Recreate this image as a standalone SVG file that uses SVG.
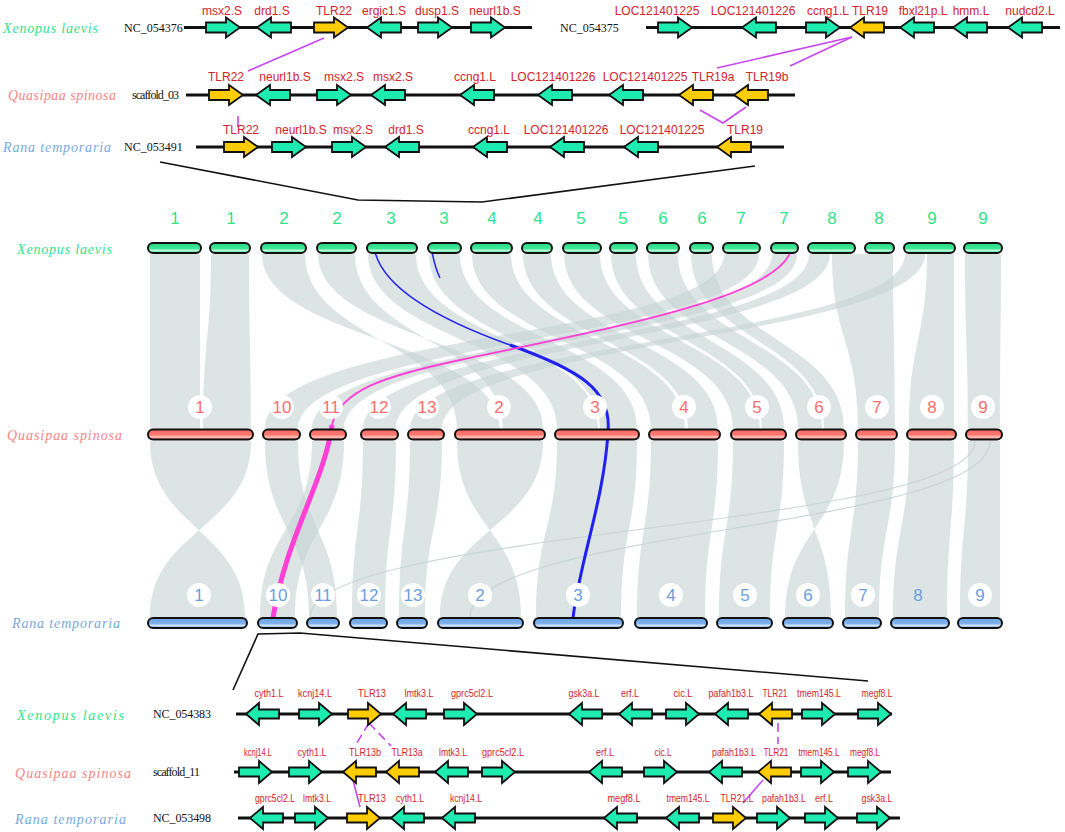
<svg xmlns="http://www.w3.org/2000/svg" xmlns:xlink="http://www.w3.org/1999/xlink" width="1065" height="832" viewBox="0 0 1065 832">
<style>
.sp{font-family:"Liberation Serif",serif;font-style:italic;font-size:14px}
.xl{fill:#2fe38b}.qs{fill:#fb8585}.rt{fill:#79a9e0}
.nc{font-family:"Liberation Serif",serif;font-size:12px;fill:#111}
.gl{font-family:"Liberation Sans",Arial,sans-serif;font-size:12px;fill:#d2232a;text-anchor:middle}
.gs{font-family:"Liberation Sans",Arial,sans-serif;font-size:10.5px;fill:#d2232a;text-anchor:middle}
.ln{stroke:#111;stroke-width:3;fill:none}
.g{fill:#1eebb0;stroke:#111;stroke-width:1.8}
.y{fill:#ffcc00;stroke:#111;stroke-width:1.8}
.hl{stroke:#c845f0;stroke-width:1.6;fill:none}
.dsh{stroke-dasharray:9 5}
.bk{stroke:#111;stroke-width:1.6;fill:none}
.rb{fill:#c6d4d4;opacity:.62}
.th{fill:none;stroke:#c6d4d4;stroke-width:1.2;opacity:.9}
.chx{fill:url(#gx);stroke:#111;stroke-width:2}
.chq{fill:url(#gq);stroke:#111;stroke-width:2}
.chr{fill:url(#gr);stroke:#111;stroke-width:2}
.nx{font-family:"Liberation Sans",Arial,sans-serif;font-size:17px;fill:#2fe38b;text-anchor:middle}
.nq{font-family:"Liberation Sans",Arial,sans-serif;font-size:17px;fill:#fb6e6e;text-anchor:middle}
.nr{font-family:"Liberation Sans",Arial,sans-serif;font-size:17px;fill:#6a9fdf;text-anchor:middle}
.wc{fill:#fff}
</style>
<defs>
<path id="ga" d="M0,-5 H20 V-10 L34,0 L20,10 V5 H0 Z"/>
<path id="gb" d="M0,-4.5 H20 V-11 L33,0 L20,11 V4.5 H0 Z"/>
<linearGradient id="gx" x1="0" y1="0" x2="0" y2="1"><stop offset="0" stop-color="#28d884"/><stop offset="0.55" stop-color="#3ee896"/><stop offset="0.75" stop-color="#b8f8d8"/><stop offset="1" stop-color="#28d884"/></linearGradient>
<linearGradient id="gq" x1="0" y1="0" x2="0" y2="1"><stop offset="0" stop-color="#fa6a64"/><stop offset="0.55" stop-color="#ff7a72"/><stop offset="0.75" stop-color="#ffc8c2"/><stop offset="1" stop-color="#fa6a64"/></linearGradient>
<linearGradient id="gr" x1="0" y1="0" x2="0" y2="1"><stop offset="0" stop-color="#6aa2e2"/><stop offset="0.55" stop-color="#7fb2ec"/><stop offset="0.75" stop-color="#cfe3f8"/><stop offset="1" stop-color="#6aa2e2"/></linearGradient>
</defs>

<g id="ribbons-top">
<path class="rb" d="M150,254 C150,340 150,340 150,429 L200,429 C200,340 200,340 200,254Z"/>
<path class="rb" d="M211,254 C211,340 203,340 203,429 L251,429 C251,340 249,340 249,254Z"/>
<path class="rb" d="M262,254 C262,340 500,340 500,429 L457,429 C457,340 305,340 305,254Z"/>
<path class="rb" d="M318,254 C318,340 543,340 543,429 L503,429 C503,340 355,340 355,254Z"/>
<path class="rb" d="M368,254 C368,340 557,340 557,429 L598,429 C598,340 416,340 416,254Z"/>
<path class="rb" d="M429,254 C429,340 600,340 600,429 L637,429 C637,340 460,340 460,254Z"/>
<path class="rb" d="M472,254 C472,340 651,340 651,429 L685,429 C685,340 511,340 511,254Z"/>
<path class="rb" d="M523,254 C523,340 688,340 688,429 L718,429 C718,340 551,340 551,254Z"/>
<path class="rb" d="M564,254 C564,340 733,340 733,429 L760,429 C760,340 600,340 600,254Z"/>
<path class="rb" d="M611,254 C611,340 762,340 762,429 L784,429 C784,340 636,340 636,254Z"/>
<path class="rb" d="M648,254 C648,340 798,340 798,429 L822,429 C822,340 678,340 678,254Z"/>
<path class="rb" d="M691,254 C691,340 824,340 824,429 L844,429 C844,340 712,340 712,254Z"/>
<path class="rb" d="M724,254 C724,340 265,330 265,429 L298,429 C298,340 759,340 759,254Z"/>
<path class="rb" d="M772,254 C772,340 312,340 312,429 L344,429 C344,340 797,340 797,254Z"/>
<path class="rb" d="M809,254 C809,340 363,340 363,429 L396,429 C396,340 830,340 830,254Z"/>
<path class="rb" d="M832,254 C832,340 858,340 858,429 L895,429 C895,340 893,340 893,254Z"/>
<path class="rb" d="M905,254 C905,340 410,340 410,429 L442,429 C442,340 925,340 925,254Z"/>
<path class="rb" d="M927,254 C927,340 909,340 909,429 L954,429 C954,340 954,340 954,254Z"/>
<path class="rb" d="M965,254 C965,340 968,340 968,429 L1000,429 C1000,340 1001,340 1001,254Z"/>
</g>
<g id="ribbons-bottom">
<path class="rb" d="M150,441 C150,529 245,529 245,617 L150,617 C150,529 251,529 251,441Z"/>
<path class="rb" d="M265,441 C265,529 309,529 309,617 L337,617 C337,529 298,529 298,441Z"/>
<path class="rb" d="M312,441 C312,529 260,529 260,617 L295,617 C295,529 344,529 344,441Z"/>
<path class="rb" d="M363,441 C363,529 352,529 352,617 L385,617 C385,529 396,529 396,441Z"/>
<path class="rb" d="M410,441 C410,529 399,529 399,617 L425,617 C425,529 442,529 442,441Z"/>
<path class="rb" d="M457,441 C457,529 521,529 521,617 L440,617 C440,529 543,529 543,441Z"/>
<path class="rb" d="M557,441 C557,529 536,529 536,617 L621,617 C621,529 637,529 637,441Z"/>
<path class="rb" d="M651,441 C651,529 637,529 637,617 L705,617 C705,529 718,529 718,441Z"/>
<path class="rb" d="M733,441 C733,529 719,529 719,617 L770,617 C770,529 784,529 784,441Z"/>
<path class="rb" d="M798,441 C798,529 831,529 831,617 L785,617 C785,529 844,529 844,441Z"/>
<path class="rb" d="M858,441 C858,529 845,529 845,617 L879,617 C879,529 895,529 895,441Z"/>
<path class="rb" d="M909,441 C909,529 893,529 893,617 L947,617 C947,529 954,529 954,441Z"/>
<path class="rb" d="M968,441 C968,529 960,529 960,617 L1000,617 C1000,529 1000,529 1000,441Z"/>
<path class="th" d="M990,441 C990,529 470,529 470,617"/>
<path class="th" d="M975,441 C975,529 310,529 310,617"/>
</g>

<g id="highlight-lines">
<path d="M375,252 C385,290 440,320 510,345" fill="none" stroke="#2020f0" stroke-width="1.5"/>
<path d="M432,252 C434,262 436,270 440,278" fill="none" stroke="#2020f0" stroke-width="1.5"/>
<path d="M510,345 C580,370 612,390 608,432 C604,500 580,560 573,618" fill="none" stroke="#2020f0" stroke-width="3"/>
<path d="M790,253 C770,300 600,330 460,360 C385,376 340,390 332,425" fill="none" stroke="#ff3fd6" stroke-width="1.8"/>
<path d="M332,425 C325,480 285,540 273,618" fill="none" stroke="#ff3fd6" stroke-width="5"/>
</g>

<g id="chromosomes-xenopus">
<rect class="chx" x="148" y="243" width="53" height="10" rx="5"/>
<rect class="chx" x="210" y="243" width="40" height="10" rx="5"/>
<rect class="chx" x="261" y="243" width="45" height="10" rx="5"/>
<rect class="chx" x="317" y="243" width="39" height="10" rx="5"/>
<rect class="chx" x="367" y="243" width="50" height="10" rx="5"/>
<rect class="chx" x="428" y="243" width="33" height="10" rx="5"/>
<rect class="chx" x="471" y="243" width="41" height="10" rx="5"/>
<rect class="chx" x="522" y="243" width="30" height="10" rx="5"/>
<rect class="chx" x="563" y="243" width="38" height="10" rx="5"/>
<rect class="chx" x="610" y="243" width="27" height="10" rx="5"/>
<rect class="chx" x="647" y="243" width="32" height="10" rx="5"/>
<rect class="chx" x="690" y="243" width="23" height="10" rx="5"/>
<rect class="chx" x="723" y="243" width="37" height="10" rx="5"/>
<rect class="chx" x="771" y="243" width="27" height="10" rx="5"/>
<rect class="chx" x="808" y="243" width="47" height="10" rx="5"/>
<rect class="chx" x="865" y="243" width="29" height="10" rx="5"/>
<rect class="chx" x="904" y="243" width="51" height="10" rx="5"/>
<rect class="chx" x="964" y="243" width="38" height="10" rx="5"/>
<text class="nx" x="175" y="224">1</text><text class="nx" x="231" y="224">1</text>
<text class="nx" x="284" y="224">2</text><text class="nx" x="337" y="224">2</text>
<text class="nx" x="391" y="224">3</text><text class="nx" x="444" y="224">3</text>
<text class="nx" x="492" y="224">4</text><text class="nx" x="538" y="224">4</text>
<text class="nx" x="581" y="224">5</text><text class="nx" x="623" y="224">5</text>
<text class="nx" x="663" y="224">6</text><text class="nx" x="702" y="224">6</text>
<text class="nx" x="741" y="224">7</text><text class="nx" x="784" y="224">7</text>
<text class="nx" x="832" y="224">8</text><text class="nx" x="879" y="224">8</text>
<text class="nx" x="932" y="224">9</text><text class="nx" x="983" y="224">9</text>
<text class="sp xl" x="17" y="254" textLength="95">Xenopus laevis</text>
</g>

<g id="chromosomes-quasipaa">
<rect class="chq" x="148" y="429.5" width="105" height="10" rx="5"/>
<rect class="chq" x="263" y="429.5" width="37" height="10" rx="5"/>
<rect class="chq" x="310" y="429.5" width="36" height="10" rx="5"/>
<rect class="chq" x="361" y="429.5" width="37" height="10" rx="5"/>
<rect class="chq" x="408" y="429.5" width="36" height="10" rx="5"/>
<rect class="chq" x="455" y="429.5" width="90" height="10" rx="5"/>
<rect class="chq" x="555" y="429.5" width="84" height="10" rx="5"/>
<rect class="chq" x="649" y="429.5" width="71" height="10" rx="5"/>
<rect class="chq" x="731" y="429.5" width="55" height="10" rx="5"/>
<rect class="chq" x="796" y="429.5" width="50" height="10" rx="5"/>
<rect class="chq" x="856" y="429.5" width="41" height="10" rx="5"/>
<rect class="chq" x="907" y="429.5" width="49" height="10" rx="5"/>
<rect class="chq" x="966" y="429.5" width="36" height="10" rx="5"/>
<circle class="wc" cx="200" cy="407" r="12"/><circle class="wc" cx="282" cy="407" r="12"/>
<circle class="wc" cx="331" cy="407" r="12"/><circle class="wc" cx="379" cy="407" r="12"/>
<circle class="wc" cx="427" cy="407" r="12"/><circle class="wc" cx="499" cy="407" r="12"/>
<circle class="wc" cx="595" cy="407" r="12"/><circle class="wc" cx="684" cy="407" r="12"/>
<circle class="wc" cx="757" cy="407" r="12"/><circle class="wc" cx="819" cy="407" r="12"/>
<circle class="wc" cx="877" cy="407" r="12"/><circle class="wc" cx="932" cy="407" r="12"/>
<circle class="wc" cx="983" cy="407" r="12"/>
<text class="nq" x="200" y="413">1</text><text class="nq" x="282" y="413">10</text>
<text class="nq" x="331" y="413">11</text><text class="nq" x="379" y="413">12</text>
<text class="nq" x="427" y="413">13</text><text class="nq" x="499" y="413">2</text>
<text class="nq" x="595" y="413">3</text><text class="nq" x="684" y="413">4</text>
<text class="nq" x="757" y="413">5</text><text class="nq" x="819" y="413">6</text>
<text class="nq" x="877" y="413">7</text><text class="nq" x="932" y="413">8</text>
<text class="nq" x="983" y="413">9</text>
<text class="sp qs" x="7" y="440" textLength="115">Quasipaa spinosa</text>
</g>

<g id="chromosomes-rana">
<rect class="chr" x="148" y="618" width="99" height="10" rx="5"/>
<rect class="chr" x="258" y="618" width="39" height="10" rx="5"/>
<rect class="chr" x="307" y="618" width="32" height="10" rx="5"/>
<rect class="chr" x="350" y="618" width="37" height="10" rx="5"/>
<rect class="chr" x="397" y="618" width="30" height="10" rx="5"/>
<rect class="chr" x="438" y="618" width="85" height="10" rx="5"/>
<rect class="chr" x="534" y="618" width="89" height="10" rx="5"/>
<rect class="chr" x="635" y="618" width="72" height="10" rx="5"/>
<rect class="chr" x="717" y="618" width="55" height="10" rx="5"/>
<rect class="chr" x="783" y="618" width="50" height="10" rx="5"/>
<rect class="chr" x="843" y="618" width="38" height="10" rx="5"/>
<rect class="chr" x="891" y="618" width="58" height="10" rx="5"/>
<rect class="chr" x="958" y="618" width="44" height="10" rx="5"/>
<circle class="wc" cx="199" cy="595" r="12"/><circle class="wc" cx="278" cy="595" r="12"/>
<circle class="wc" cx="323" cy="595" r="12"/><circle class="wc" cx="369" cy="595" r="12"/>
<circle class="wc" cx="413" cy="595" r="12"/><circle class="wc" cx="480" cy="595" r="12"/>
<circle class="wc" cx="578" cy="595" r="12"/><circle class="wc" cx="671" cy="595" r="12"/>
<circle class="wc" cx="745" cy="595" r="12"/><circle class="wc" cx="808" cy="595" r="12"/>
<circle class="wc" cx="863" cy="595" r="12"/><circle class="wc" cx="980" cy="595" r="12"/>
<text class="nr" x="199" y="601">1</text><text class="nr" x="278" y="601">10</text>
<text class="nr" x="323" y="601">11</text><text class="nr" x="369" y="601">12</text>
<text class="nr" x="413" y="601">13</text><text class="nr" x="480" y="601">2</text>
<text class="nr" x="578" y="601">3</text><text class="nr" x="671" y="601">4</text>
<text class="nr" x="745" y="601">5</text><text class="nr" x="808" y="601">6</text>
<text class="nr" x="863" y="601">7</text><text class="nr" x="918" y="601">8</text>
<text class="nr" x="980" y="601">9</text>
<text class="sp rt" x="12" y="628" textLength="108">Rana temporaria</text>
</g>

<g id="zoom-connectors">
<polyline class="bk" points="160,162 358,200 482,202 755,166"/>
<polyline class="bk" points="233,690 258,634 300,633 868,681"/>
<line class="hl" x1="324" y1="38" x2="248" y2="71"/>
<line class="hl" x1="852" y1="37" x2="717" y2="68"/>
<line class="hl" x1="852" y1="37" x2="790" y2="66"/>
<line class="hl" x1="238" y1="116" x2="238" y2="127"/>
<polyline class="hl" points="700,110 723,123 746,107"/>
<line class="hl dsh" x1="369" y1="723" x2="355" y2="746"/>
<line class="hl dsh" x1="369" y1="723" x2="391" y2="746"/>
<line class="hl" x1="353" y1="780" x2="360" y2="807"/>
<line class="hl dsh" x1="778" y1="723" x2="778" y2="744"/>
<line class="hl" x1="763" y1="780" x2="743" y2="803"/>
</g>

<g id="top-xenopus">
<text class="sp xl" x="3" y="33" textLength="95">Xenopus laevis</text>
<text class="nc" x="124" y="32">NC_054376</text>
<line class="ln" x1="184" y1="27.5" x2="532" y2="27.5"/>
<text class="nc" x="560" y="32">NC_054375</text>
<line class="ln" x1="646" y1="27.5" x2="1060" y2="27.5"/>
<use href="#ga" class="g" transform="translate(206,27.5)"/>
<use href="#ga" class="g" transform="translate(291,27.5) scale(-1,1)"/>
<use href="#ga" class="y" transform="translate(314,27.5)"/>
<use href="#ga" class="g" transform="translate(401,27.5) scale(-1,1)"/>
<use href="#ga" class="g" transform="translate(418,27.5)"/>
<use href="#ga" class="g" transform="translate(471,27.5)"/>
<use href="#ga" class="g" transform="translate(658,27.5)"/>
<use href="#ga" class="g" transform="translate(776,27.5) scale(-1,1)"/>
<use href="#ga" class="g" transform="translate(806,27.5)"/>
<use href="#ga" class="y" transform="translate(884,27.5) scale(-1,1)"/>
<use href="#ga" class="g" transform="translate(934,27.5) scale(-1,1)"/>
<use href="#ga" class="g" transform="translate(987,27.5) scale(-1,1)"/>
<use href="#ga" class="g" transform="translate(1042,27.5) scale(-1,1)"/>
<text class="gl" x="222" y="14.5">msx2.S</text>
<text class="gl" x="272" y="14.5">drd1.S</text>
<text class="gl" x="334" y="14.5">TLR22</text>
<text class="gl" x="384" y="14.5">ergic1.S</text>
<text class="gl" x="437" y="14.5">dusp1.S</text>
<text class="gl" x="495" y="14.5">neurl1b.S</text>
<text class="gl" x="657" y="14.5">LOC121401225</text>
<text class="gl" x="753" y="14.5">LOC121401226</text>
<text class="gl" x="828" y="14.5">ccng1.L</text>
<text class="gl" x="870" y="14.5">TLR19</text>
<text class="gl" x="923" y="14.5">fbxl21p.L</text>
<text class="gl" x="971" y="14.5">hmm.L</text>
<text class="gl" x="1030" y="14.5">nudcd2.L</text>
</g>

<g id="top-quasipaa">
<text class="sp qs" x="8" y="100" textLength="108">Quasipaa spinosa</text>
<text class="nc" x="132" y="99" font-size="11" textLength="47">scaffold_03</text>
<line class="ln" x1="186" y1="95" x2="795" y2="95"/>
<use href="#ga" class="y" transform="translate(209,95)"/>
<use href="#ga" class="g" transform="translate(290,95) scale(-1,1)"/>
<use href="#ga" class="g" transform="translate(317,95)"/>
<use href="#ga" class="g" transform="translate(405,95) scale(-1,1)"/>
<use href="#ga" class="g" transform="translate(494,95) scale(-1,1)"/>
<use href="#ga" class="g" transform="translate(572,95) scale(-1,1)"/>
<use href="#ga" class="g" transform="translate(643,95) scale(-1,1)"/>
<use href="#ga" class="y" transform="translate(713,95) scale(-1,1)"/>
<use href="#ga" class="y" transform="translate(768,95) scale(-1,1)"/>
<text class="gl" x="226" y="81">TLR22</text>
<text class="gl" x="285" y="81">neurl1b.S</text>
<text class="gl" x="344" y="81">msx2.S</text>
<text class="gl" x="393" y="81">msx2.S</text>
<text class="gl" x="475" y="81">ccng1.L</text>
<text class="gl" x="553" y="81">LOC121401226</text>
<text class="gl" x="645" y="81">LOC121401225</text>
<text class="gl" x="713" y="81">TLR19a</text>
<text class="gl" x="767" y="81">TLR19b</text>
</g>

<g id="top-rana">
<text class="sp rt" x="3" y="152" textLength="108">Rana temporaria</text>
<text class="nc" x="124" y="151">NC_053491</text>
<line class="ln" x1="196" y1="147" x2="784" y2="147"/>
<use href="#ga" class="y" transform="translate(224,147)"/>
<use href="#ga" class="g" transform="translate(272,147)"/>
<use href="#ga" class="g" transform="translate(332,147)"/>
<use href="#ga" class="g" transform="translate(419,147) scale(-1,1)"/>
<use href="#ga" class="g" transform="translate(507,147) scale(-1,1)"/>
<use href="#ga" class="g" transform="translate(584,147) scale(-1,1)"/>
<use href="#ga" class="g" transform="translate(658,147) scale(-1,1)"/>
<use href="#ga" class="y" transform="translate(751,147) scale(-1,1)"/>
<text class="gl" x="241" y="134">TLR22</text>
<text class="gl" x="301" y="134">neurl1b.S</text>
<text class="gl" x="353" y="134">msx2.S</text>
<text class="gl" x="406" y="134">drd1.S</text>
<text class="gl" x="489" y="134">ccng1.L</text>
<text class="gl" x="566" y="134">LOC121401226</text>
<text class="gl" x="662" y="134">LOC121401225</text>
<text class="gl" x="745" y="134">TLR19</text>
</g>

<g id="bottom-xenopus">
<text class="sp xl" x="17" y="720" textLength="107">Xenopus laevis</text>
<text class="nc" x="153" y="718" textLength="58">NC_054383</text>
<line class="ln" x1="236" y1="714" x2="892" y2="714"/>
<use href="#gb" class="g" transform="translate(279,714) scale(-1,1)"/>
<use href="#gb" class="g" transform="translate(299,714)"/>
<use href="#gb" class="y" transform="translate(348,714)"/>
<use href="#gb" class="g" transform="translate(426,714) scale(-1,1)"/>
<use href="#gb" class="g" transform="translate(444,714)"/>
<use href="#gb" class="g" transform="translate(602,714) scale(-1,1)"/>
<use href="#gb" class="g" transform="translate(652,714) scale(-1,1)"/>
<use href="#gb" class="g" transform="translate(666,714)"/>
<use href="#gb" class="g" transform="translate(748,714) scale(-1,1)"/>
<use href="#gb" class="y" transform="translate(792,714) scale(-1,1)"/>
<use href="#gb" class="g" transform="translate(802,714)"/>
<use href="#gb" class="g" transform="translate(858,714)"/>
<text class="gs" x="269" y="697" textLength="29" lengthAdjust="spacingAndGlyphs">cyth1.L</text>
<text class="gs" x="315" y="697" textLength="34" lengthAdjust="spacingAndGlyphs">kcnj14.L</text>
<text class="gs" x="372" y="697" textLength="28" lengthAdjust="spacingAndGlyphs">TLR13</text>
<text class="gs" x="419" y="697" textLength="29" lengthAdjust="spacingAndGlyphs">lmtk3.L</text>
<text class="gs" x="472" y="697" textLength="42" lengthAdjust="spacingAndGlyphs">gprc5cl2.L</text>
<text class="gs" x="584" y="697" textLength="31" lengthAdjust="spacingAndGlyphs">gsk3a.L</text>
<text class="gs" x="630" y="697" textLength="18" lengthAdjust="spacingAndGlyphs">erf.L</text>
<text class="gs" x="683" y="697" textLength="19" lengthAdjust="spacingAndGlyphs">cic.L</text>
<text class="gs" x="731" y="697" textLength="45" lengthAdjust="spacingAndGlyphs">pafah1b3.L</text>
<text class="gs" x="775" y="697" textLength="25" lengthAdjust="spacingAndGlyphs">TLR21</text>
<text class="gs" x="819" y="697" textLength="44" lengthAdjust="spacingAndGlyphs">tmem145.L</text>
<text class="gs" x="877" y="697" textLength="31" lengthAdjust="spacingAndGlyphs">megf8.L</text>
</g>

<g id="bottom-quasipaa">
<text class="sp qs" x="15" y="778" textLength="116">Quasipaa spinosa</text>
<text class="nc" x="153" y="776" font-size="11" textLength="47">scaffold_11</text>
<line class="ln" x1="234" y1="772" x2="891" y2="772"/>
<use href="#gb" class="g" transform="translate(239,772)"/>
<use href="#gb" class="g" transform="translate(289,772)"/>
<use href="#gb" class="y" transform="translate(376,772) scale(-1,1)"/>
<use href="#gb" class="y" transform="translate(419,772) scale(-1,1)"/>
<use href="#gb" class="g" transform="translate(468,772) scale(-1,1)"/>
<use href="#gb" class="g" transform="translate(482,772)"/>
<use href="#gb" class="g" transform="translate(622,772) scale(-1,1)"/>
<use href="#gb" class="g" transform="translate(644,772)"/>
<use href="#gb" class="g" transform="translate(742,772) scale(-1,1)"/>
<use href="#gb" class="y" transform="translate(791,772) scale(-1,1)"/>
<use href="#gb" class="g" transform="translate(801,772)"/>
<use href="#gb" class="g" transform="translate(848,772)"/>
<text class="gs" x="258" y="756" textLength="28" lengthAdjust="spacingAndGlyphs">kcnj14.L</text>
<text class="gs" x="312" y="756" textLength="29" lengthAdjust="spacingAndGlyphs">cyth1.L</text>
<text class="gs" x="365" y="756" textLength="32" lengthAdjust="spacingAndGlyphs">TLR13b</text>
<text class="gs" x="407" y="756" textLength="31" lengthAdjust="spacingAndGlyphs">TLR13a</text>
<text class="gs" x="453" y="756" textLength="28" lengthAdjust="spacingAndGlyphs">lmtk3.L</text>
<text class="gs" x="503" y="756" textLength="42" lengthAdjust="spacingAndGlyphs">gprc5cl2.L</text>
<text class="gs" x="605" y="756" textLength="18" lengthAdjust="spacingAndGlyphs">erf.L</text>
<text class="gs" x="663" y="756" textLength="17" lengthAdjust="spacingAndGlyphs">cic.L</text>
<text class="gs" x="734" y="756" textLength="44" lengthAdjust="spacingAndGlyphs">pafah1b3.L</text>
<text class="gs" x="776" y="756" textLength="25" lengthAdjust="spacingAndGlyphs">TLR21</text>
<text class="gs" x="819" y="756" textLength="41" lengthAdjust="spacingAndGlyphs">tmem145.L</text>
<text class="gs" x="865" y="756" textLength="30" lengthAdjust="spacingAndGlyphs">megf8.L</text>
</g>

<g id="bottom-rana">
<text class="sp rt" x="15" y="824" textLength="111">Rana temporaria</text>
<text class="nc" x="153" y="822" textLength="58">NC_053498</text>
<line class="ln" x1="238" y1="818" x2="900" y2="818"/>
<use href="#gb" class="g" transform="translate(283,818) scale(-1,1)"/>
<use href="#gb" class="g" transform="translate(295,818)"/>
<use href="#gb" class="y" transform="translate(347,818)"/>
<use href="#gb" class="g" transform="translate(424,818) scale(-1,1)"/>
<use href="#gb" class="g" transform="translate(475,818) scale(-1,1)"/>
<use href="#gb" class="g" transform="translate(637,818) scale(-1,1)"/>
<use href="#gb" class="g" transform="translate(699,818) scale(-1,1)"/>
<use href="#gb" class="y" transform="translate(713,818)"/>
<use href="#gb" class="g" transform="translate(757,818)"/>
<use href="#gb" class="g" transform="translate(805,818)"/>
<use href="#gb" class="g" transform="translate(857,818)"/>
<text class="gs" x="275" y="802" textLength="40" lengthAdjust="spacingAndGlyphs">gprc5cl2.L</text>
<text class="gs" x="317" y="802" textLength="28" lengthAdjust="spacingAndGlyphs">lmtk3.L</text>
<text class="gs" x="372" y="802" textLength="28" lengthAdjust="spacingAndGlyphs">TLR13</text>
<text class="gs" x="410" y="802" textLength="28" lengthAdjust="spacingAndGlyphs">cyth1.L</text>
<text class="gs" x="466" y="802" textLength="32" lengthAdjust="spacingAndGlyphs">kcnj14.L</text>
<text class="gs" x="624" y="802" textLength="33" lengthAdjust="spacingAndGlyphs">megf8.L</text>
<text class="gs" x="688" y="802" textLength="43" lengthAdjust="spacingAndGlyphs">tmem145.L</text>
<text class="gs" x="737" y="802" textLength="33" lengthAdjust="spacingAndGlyphs">TLR21.L</text>
<text class="gs" x="784" y="802" textLength="44" lengthAdjust="spacingAndGlyphs">pafah1b3.L</text>
<text class="gs" x="824" y="802" textLength="18" lengthAdjust="spacingAndGlyphs">erf.L</text>
<text class="gs" x="877" y="802" textLength="31" lengthAdjust="spacingAndGlyphs">gsk3a.L</text>
</g>
</svg>
